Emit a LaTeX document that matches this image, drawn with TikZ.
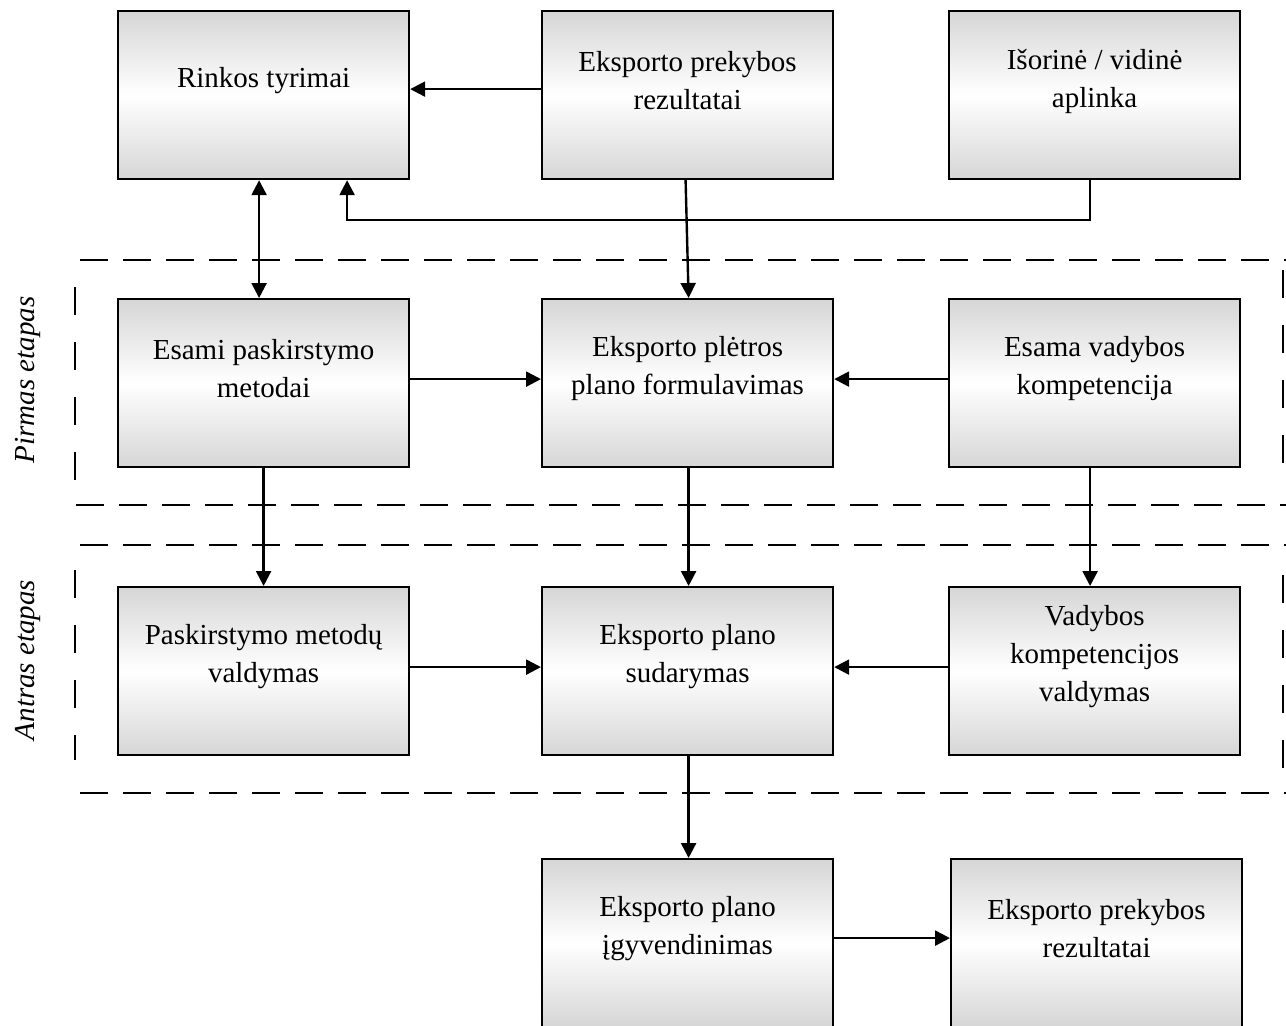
\documentclass[tikz,border=0pt]{standalone}
\usepackage{fontspec}
\setmainfont{Liberation Serif}
\usetikzlibrary{arrows.meta,calc}

\definecolor{boxgray}{RGB}{214,214,214}

\tikzset{
  stagebox/.style={draw=black, line width=2.2pt, rectangle, anchor=north west,
    minimum width=291pt, minimum height=168pt, inner sep=0pt,
    top color=boxgray, bottom color=boxgray, middle color=white},
  boxtext/.style={align=center, inner sep=0pt, font=\fontsize{29}{38}\selectfont},
  sidetext/.style={rotate=90, inner sep=0pt, font=\fontsize{29}{38}\selectfont\itshape},
  tip/.style={},
  conn/.style={line width=2.4pt, -{Triangle[length=15pt,width=15pt]}},
  bothconn/.style={line width=2.4pt, {Triangle[length=15pt,width=15pt]}-{Triangle[length=15pt,width=15pt]}},
  hdash/.style={line width=1.8pt, dash pattern=on 28pt off 15pt},
  vdash/.style={line width=1.8pt, dash pattern=on 28pt off 27pt},
}

% box with its label set a fixed distance below the top edge
\newcommand\stagenode[3]{%
  \node[stagebox] (#1) at (#2) {};
  \node[boxtext] (#1-t) at ([yshift=-71pt]#1.north) {#3};}

\begin{document}
\begin{tikzpicture}[x=1pt, y=-1pt]
\useasboundingbox (0,0) rectangle (1286,1026);
\clip (0,0) rectangle (1286,1026);
\fill[white] (0,0) rectangle (1286,1026);

% stage frames
\draw[hdash] (80,260) -- (1286,260);
\draw[hdash] (76,505) -- (1286,505);
\draw[vdash] (75,287) -- (75,486);
\draw[vdash] (1283,270) -- (1283,470);
\draw[hdash] (80,545) -- (1286,545);
\draw[hdash] (80,793) -- (1286,793);
\draw[vdash] (75,570) -- (75,760);
\draw[vdash] (1283,575) -- (1283,775);

\node[sidetext] (p1) at (28,380) {Pirmas etapas};
\node[sidetext] (p2) at (28,660) {Antras etapas};

% boxes
\stagenode{rt}{117,10}{Rinkos tyrimai}
\stagenode{ep1}{541,10}{Eksporto prekybos\\rezultatai}
\stagenode{iv}{948,10}{Išorinė / vidinė\\aplinka}
\stagenode{esm}{117,298}{Esami paskirstymo\\metodai}
\stagenode{epf}{541,298}{Eksporto plėtros\\plano formulavimas}
\stagenode{evk}{948,298}{Esama vadybos\\kompetencija}
\stagenode{pmv}{117,586}{Paskirstymo metodų\\valdymas}
\stagenode{eps}{541,586}{Eksporto plano\\sudarymas}
\stagenode{vkv}{948,586}{Vadybos\\kompetencijos\\valdymas}
\stagenode{epi}{541,858}{Eksporto plano\\įgyvendinimas}
\stagenode{ep2}{950,858}{Eksporto prekybos\\rezultatai}

% connectors
\draw[conn] ([yshift=6pt]ep1.west) -- ([yshift=6pt]rt.east);
\draw[bothconn] ([xshift=-4.5pt]rt.south) -- ([xshift=-4.5pt]esm.north);
\draw[conn] ([xshift=-4.5pt]iv.south) -- ++(0,40) -| ([xshift=83.5pt]rt.south);
\draw[conn] ([xshift=-2pt]ep1.south) -- ([xshift=1pt]epf.north);
\draw[conn] ([yshift=4pt]esm.east) -- ([yshift=4pt]epf.west);
\draw[conn] ([yshift=4pt]evk.west) -- ([yshift=4pt]epf.east);
\draw[conn] (esm.south) -- (pmv.north);
\draw[conn] ([xshift=1pt]epf.south) -- ([xshift=1pt]eps.north);
\draw[conn] ([xshift=-4.5pt]evk.south) -- ([xshift=-4.5pt]vkv.north);
\draw[conn] ([yshift=4pt]pmv.east) -- ([yshift=4pt]eps.west);
\draw[conn] ([yshift=4pt]vkv.west) -- ([yshift=4pt]eps.east);
\draw[conn] ([xshift=1pt]eps.south) -- ([xshift=1pt]epi.north);
\draw[conn] ([yshift=5pt]epi.east) -- ([yshift=5pt]ep2.west);
\end{tikzpicture}
\end{document}
